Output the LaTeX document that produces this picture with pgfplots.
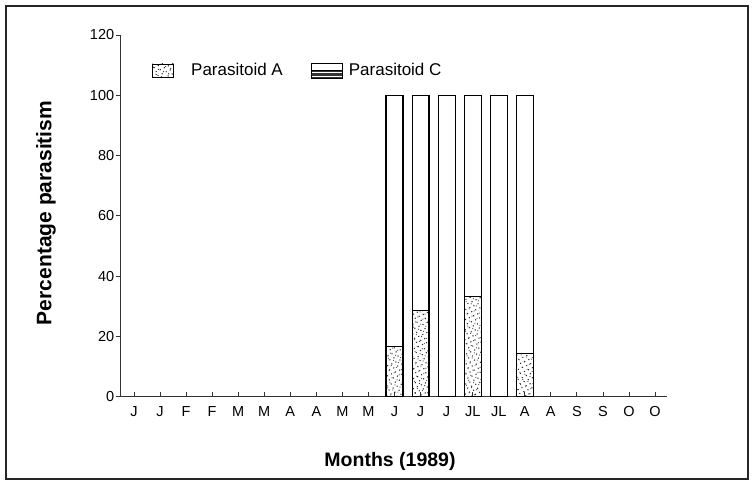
\documentclass[border=0pt]{standalone}
\usepackage{fontspec}
\setmainfont{Liberation Sans}
\usepackage{pgfplots}
\pgfplotsset{compat=1.18}
\usetikzlibrary{patterns,patterns.meta}
\tikzset{
  speckle/.style={pattern={Dots[distance=4.5pt,radius=0.75pt,angle=25]}, pattern color=black!85,
    postaction={pattern={Dots[distance=5.5pt,radius=0.6pt,angle=67,xshift=1.7pt,yshift=1.1pt]}, pattern color=black!75}},
}
\begin{document}
\begin{tikzpicture}[x=1pt,y=1pt]
\useasboundingbox (0,0) rectangle (753,482);
\draw[line width=2pt, black!85] (6,3) rectangle (748,476);
\begin{axis}[
  at={(120.7pt,85.3pt)}, anchor=south west,
  scale only axis, width=546.3pt, height=361.7pt,
  ybar stacked, bar width=0.65,
  xmin=-0.51, xmax=20.46, ymin=0, ymax=120,
  axis x line=bottom, axis y line=left,
  axis line style={-, line width=1pt, black!80},
  tick align=inside, major tick length=5pt,
  tick style={line width=0.8pt, black!80},
  ytick style={xshift=-5pt},
  xtick={0,...,20},
  xticklabels={J,J,F,F,M,M,A,A,M,M,J,J,J,JL,JL,A,A,S,S,O,O},
  ytick={0,20,...,120},
  /pgf/number format/assume math mode=true,
  x tick label style={font=\fontsize{14.5}{16}\selectfont, yshift=-6pt},
  y tick label style={font=\fontsize{14.5}{16}\selectfont, xshift=-3pt},
  xlabel={Months (1989)},
  xlabel style={at={(axis description cs:0.493,-0.178)}, anchor=center, font=\bfseries\fontsize{19.5}{21}\selectfont},
  ylabel={Percentage parasitism},
  ylabel style={at={(axis description cs:-0.1367,0.508)}, anchor=center, rotate=0, font=\bfseries\fontsize{21}{23}\selectfont},
  legend columns=2,
  legend cell align=left,
  legend style={at={(0.0518,0.93)}, anchor=north west, draw=none, fill=none,
    font=\fontsize{17}{19}\selectfont, nodes={inner sep=0pt}, column sep=0pt},
]
\addplot[draw=black, line width=1.1pt, speckle,
  legend image code/.code={\draw[black, line width=0.9pt, speckle] (0pt,-6.5pt) rectangle (21pt,6.5pt); \path (38pt,0pt);}]
  coordinates {(10,16.6) (11,28.5) (12,0) (13,33.1) (14,0) (15,14.2)};
\addlegendentry{Parasitoid A}
\addplot[draw=black, line width=1.1pt, fill=white,
  legend image code/.code={\path[fill=none,draw=none] (-29pt,0pt); \draw[black, line width=0.9pt, fill=white] (0pt,-7.5pt) rectangle (31pt,7.5pt);
    \foreach \yy in {-6.7,-5.3,-3.9,-2.5,-1.1} {\draw[fill=none, line width=0.8pt, black!80] (0pt,\yy pt) -- (31pt,\yy pt);}
    \draw[fill=none, line width=0.9pt] (0pt,-0.3pt) -- (31pt,-0.3pt); \draw[fill=none, line width=0.9pt] (0pt,-7.5pt) rectangle (31pt,7.5pt); \path[fill=none,draw=none] (37pt,0pt);}]
  coordinates {(10,83.4) (11,71.5) (12,100) (13,66.9) (14,100) (15,85.8)};
\addlegendentry{Parasitoid C}
\end{axis}
\end{tikzpicture}
\end{document}
